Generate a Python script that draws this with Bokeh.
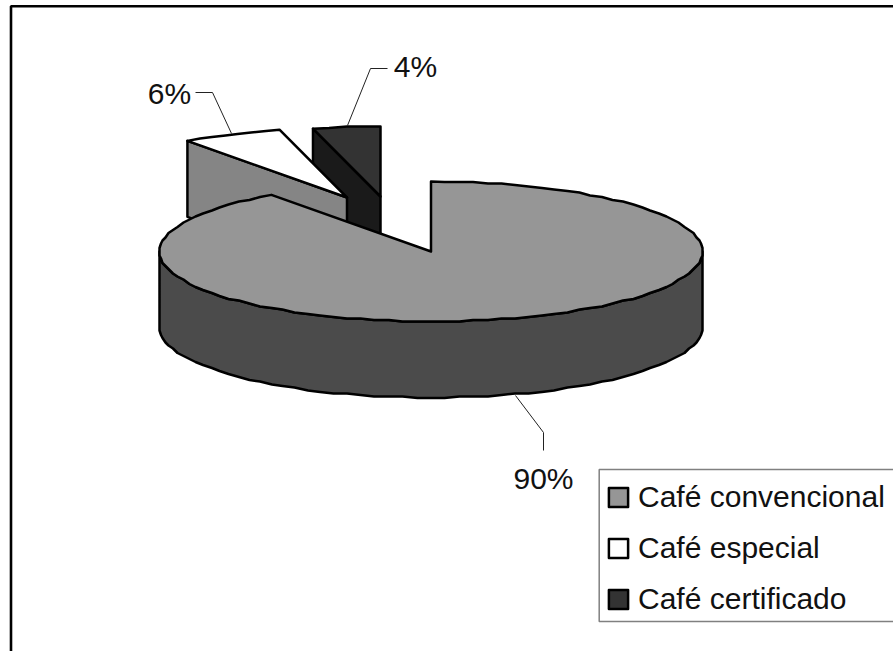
import math
from bokeh.plotting import figure
from bokeh.models import Range1d, Legend, LegendItem
from bokeh.core.properties import value
from bokeh.embed import file_html
from bokeh.resources import INLINE

categories = ["Café convencional", "Café especial", "Café certificado"]
shares = [90, 6, 4]
labels = ["90%", "6%", "4%"]
top_colors = ["#969696", "#ffffff", "#333333"]
cut_colors = ["#4b4b4b", "#858585", "#1a1a1a"]

# layout of the 3-D pie (pixels in the picture)
CX, CY, RX, RY, DEPTH = 430.5, 251, 271.5, 70, 76
apexes = [(CX, CY), (346.5, 197), (380, 196)]
label_pos = [(543, 478), (169, 93), (415, 66)]
leaders = [([515, 543, 543], [395, 432, 450]),
           ([195, 212, 231], [92, 92, 133]),
           ([387, 370, 347], [68, 68, 125])]

W, H = 893, 651
p = figure(width=W, height=H, output_backend="svg", toolbar_location=None,
           x_range=Range1d(0, W), y_range=Range1d(H, 0), min_border=0,
           background_fill_color="white", border_fill_color="white")
p.styles = {"position": "absolute", "left": "0px", "top": "0px"}
p.xaxis.visible = False
p.yaxis.visible = False
p.grid.visible = False
p.outline_line_color = None


def snap(v):
    return round(v / 1.5) * 1.5


def rim(apex, a0, a1, dy=0):
    """Outer rim from a0 to a1 (degrees clockwise from 12 o'clock)."""
    n = max(2, int(abs(a1 - a0) / 3))
    pts = []
    for i in range(n + 1):
        t = math.radians(a0 + (a1 - a0) * i / n)
        x = apex[0] + RX * math.sin(t)
        y = apex[1] - RY * math.cos(t) + dy
        pts.append((snap(x) if 0 < i < n else x, snap(y) if 0 < i < n else y))
    return pts


cum = [0]
for s in shares:
    cum.append(cum[-1] + s * 3.6)

tops = [None] * 3
line_kw = dict(line_color="black", line_width=2.5, line_join="round")

# frame, running past the right and bottom of the window
p.line([W + 20, 10.5, 10.5], [5.8, 5.8, H + 20], line_color="black", line_width=2.6)

# far slices first, nearest last
for i in (2, 1):
    a0, a1 = cum[i], cum[i + 1]
    ap = apexes[i]
    r0 = rim(ap, a0, a0)[0]
    p.patch([r0[0], ap[0], ap[0], r0[0]],
            [r0[1], ap[1], ap[1] + DEPTH, r0[1] + DEPTH],
            fill_color=cut_colors[i], **line_kw)
    pts = rim(ap, a0, a1)
    tops[i] = p.patch([ap[0]] + [q[0] for q in pts], [ap[1]] + [q[1] for q in pts],
                      fill_color=top_colors[i], **line_kw)

ap = apexes[0]
front = rim(ap, 90, 270)
back = rim(ap, 270, 90, DEPTH)
p.patch([q[0] for q in front + back], [q[1] for q in front + back],
        fill_color=cut_colors[0], **line_kw)
pts = rim(ap, cum[0], cum[1])
tops[0] = p.patch([ap[0]] + [q[0] for q in pts], [ap[1]] + [q[1] for q in pts],
                  fill_color=top_colors[0], **line_kw)

for xs, ys in leaders:
    p.line(xs, ys, line_color="#222222", line_width=1)

p.text([q[0] for q in label_pos], [q[1] for q in label_pos], text=labels,
       text_font=value("Liberation Sans"), text_font_size="30px",
       text_align="center", text_baseline="middle", text_color="#111111")

# legend box, running past the right edge of the window
p.quad(left=[598.7], right=[W + 20], top=[469], bottom=[621],
       fill_color="white", line_color="#808080", line_width=1.5)

legend = Legend(items=[LegendItem(label=c, renderers=[r]) for c, r in zip(categories, tops)],
                location=(598, 26), orientation="vertical", margin=0, padding=8,
                spacing=15, glyph_width=24, glyph_height=24, label_height=36,
                label_standoff=8, label_text_font="Liberation Sans",
                label_text_font_size="30px", label_text_color="#111111",
                border_line_color="white", border_line_alpha=0, background_fill_alpha=0)
p.add_layout(legend, "center")

open("out.html", "w").write(file_html(p, INLINE))
